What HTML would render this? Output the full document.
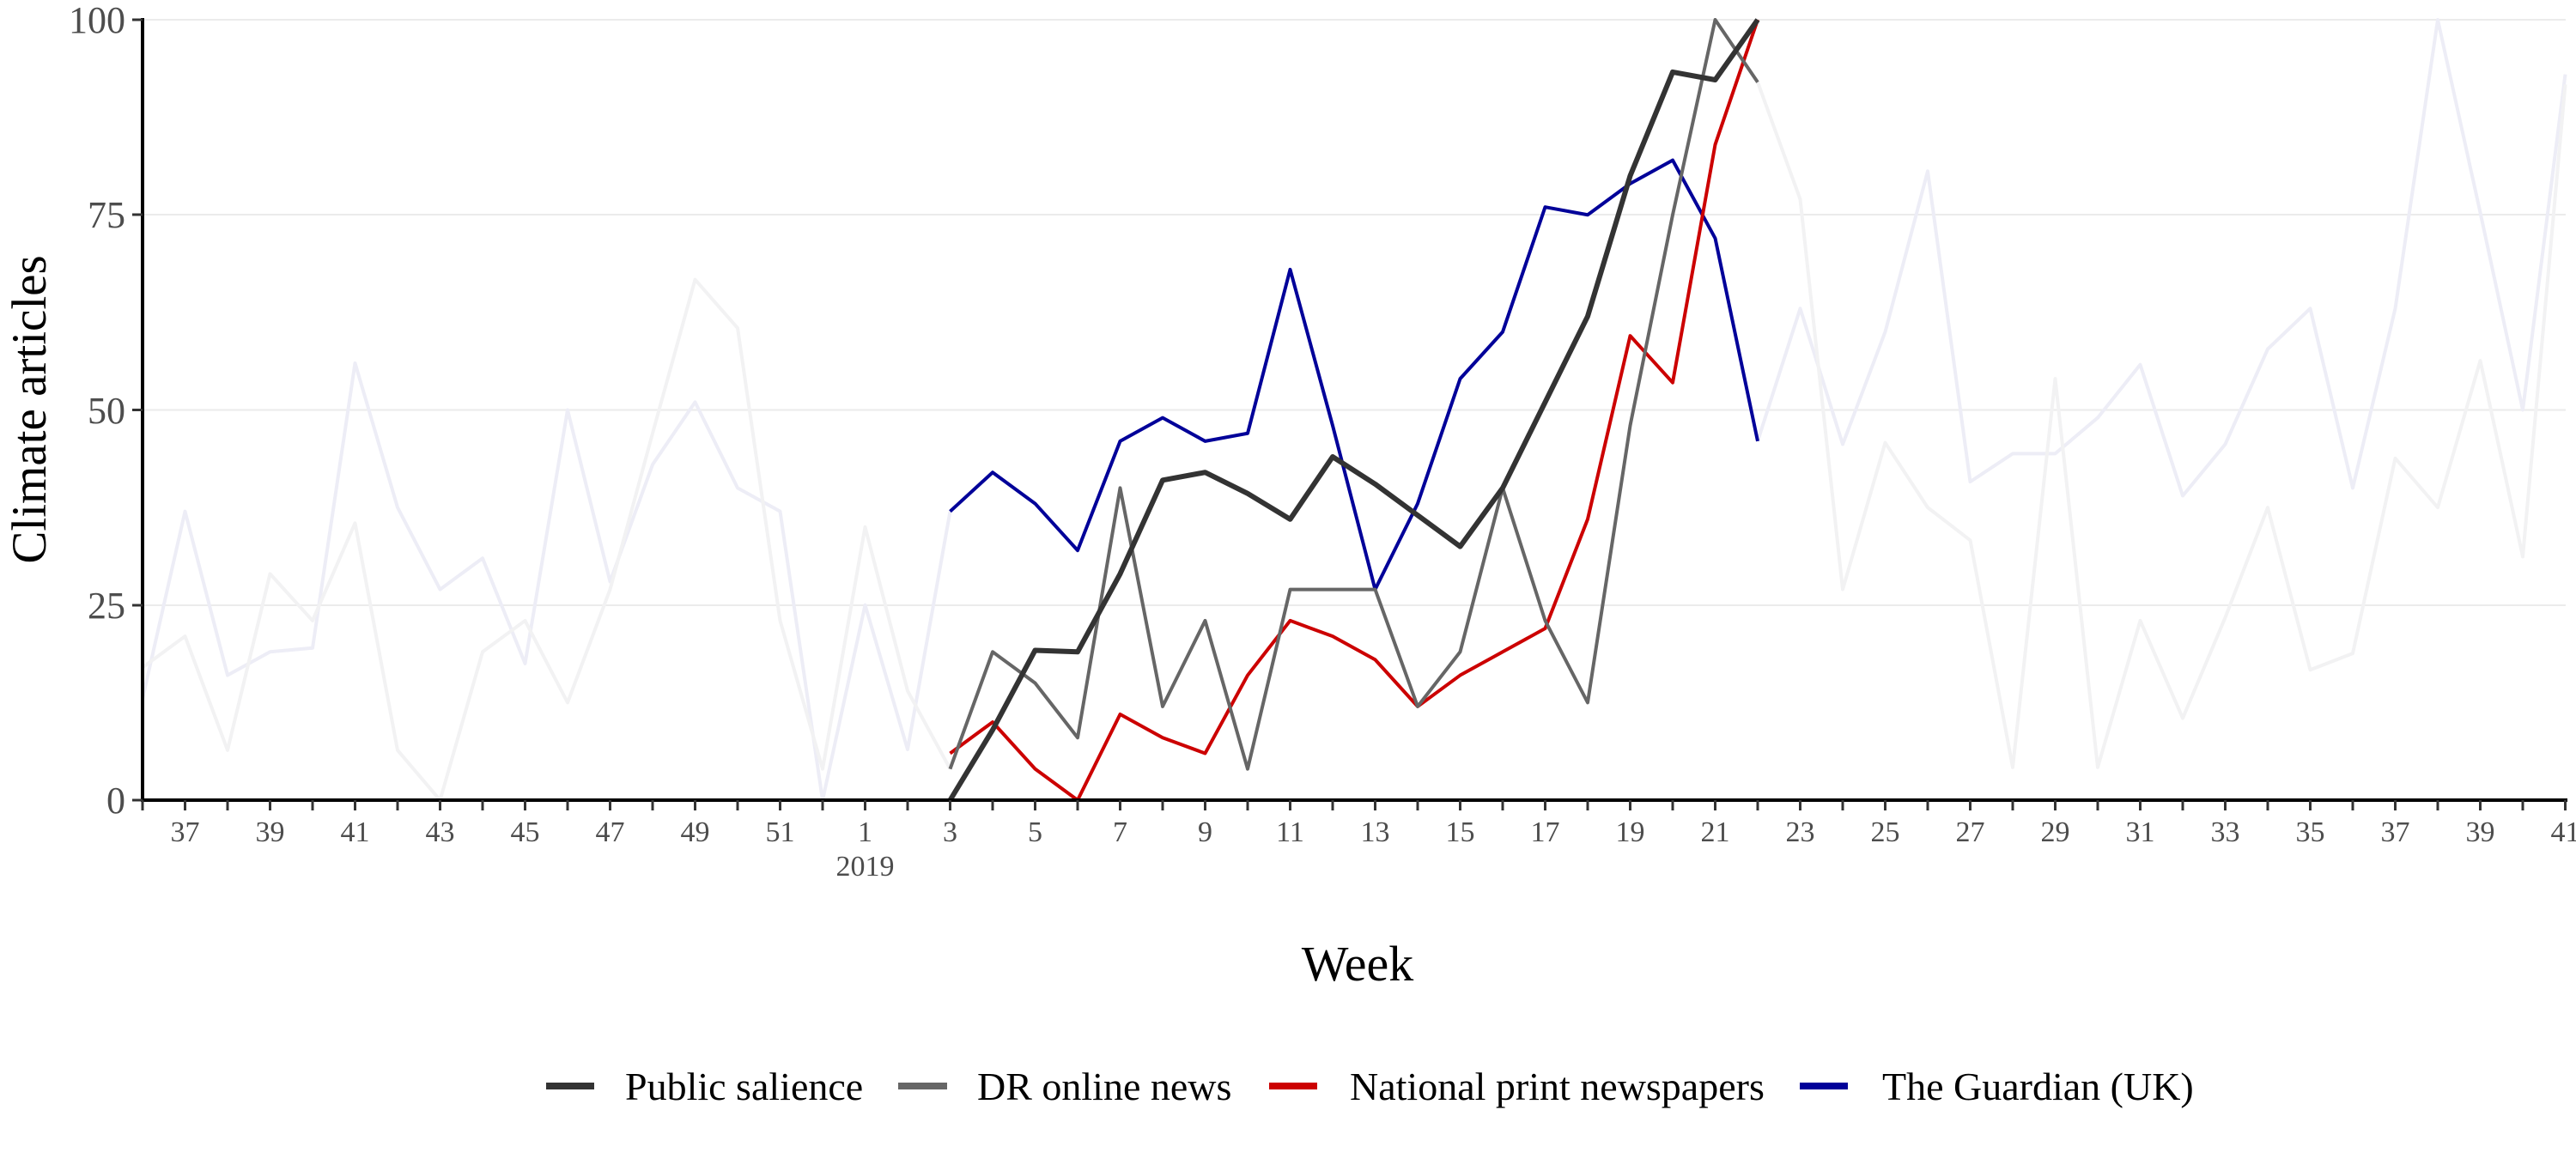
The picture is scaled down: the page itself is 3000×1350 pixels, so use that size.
<!DOCTYPE html>
<html><head><meta charset="utf-8"><style>
html,body{margin:0;padding:0;background:#fff;}
svg{display:block;font-family:"Liberation Serif",serif;}
</style></head><body>
<svg width="3000" height="1350" viewBox="0 0 3000 1350" xmlns="http://www.w3.org/2000/svg">
<rect width="3000" height="1350" fill="#fff"/>
<g stroke="#ebebeb" stroke-width="2">
<line x1="166" x2="2988" y1="23" y2="23"/>
<line x1="166" x2="2988" y1="250" y2="250"/>
<line x1="166" x2="2988" y1="477.5" y2="477.5"/>
<line x1="166" x2="2988" y1="705" y2="705"/>
</g>
<g transform="translate(166,932) scale(49.5,-9.09)" fill="none" stroke-linejoin="round">
<polyline vector-effect="non-scaling-stroke" stroke="#ededf6" stroke-width="4" points="0,13 1,37 2,16 3,19 4,19.5 5,56 6,37.5 7,27 8,31 9,17.5 10,50 11,28 12,43 13,51 14,40 15,37 16,0 17,25 18,6.5 19,37"/>
<polyline vector-effect="non-scaling-stroke" stroke="#ededf6" stroke-width="4" points="38,46 39,63 40,45.6 41,60 42,80.6 43,40.8 44,44.4 45,44.4 46,49 47,55.8 48,39 49,45.6 50,57.8 51,63 52,40 53,63 54,100 55,75.3 56,50 57,93"/>
<polyline vector-effect="non-scaling-stroke" stroke="#f2f2f3" stroke-width="4" points="0,17 1,21 2,6.4 3,29 4,23 5,35.5 6,6.4 7,0 8,19 9,23 10,12.5 11,27 12,47 13,66.7 14,60.5 15,23 16,4 17,35 18,14 19,4"/>
<polyline vector-effect="non-scaling-stroke" stroke="#f2f2f3" stroke-width="4" points="38,92 39,77 40,27 41,45.8 42,37.5 43,33.3 44,4.2 45,54 46,4.2 47,23 48,10.5 49,23.4 50,37.5 51,16.7 52,18.8 53,43.8 54,37.5 55,56.3 56,31.2 57,91.7"/>
<polyline vector-effect="non-scaling-stroke" stroke="#000099" stroke-width="4" points="19,37 20,42 21,38 22,32 23,46 24,49 25,46 26,47 27,68 28,48 29,27 30,38 31,54 32,60 33,76 34,75 35,79 36,82 37,72 38,46"/>
<polyline vector-effect="non-scaling-stroke" stroke="#cc0000" stroke-width="4" points="19,6 20,10 21,4 22,0 23,11 24,8 25,6 26,16 27,23 28,21 29,18 30,12 31,16 32,19 33,22 34,36 35,59.5 36,53.5 37,84 38,100"/>
<polyline vector-effect="non-scaling-stroke" stroke="#666666" stroke-width="4" points="19,4 20,19 21,15 22,8 23,40 24,12 25,23 26,4 27,27 28,27 29,27 30,12 31,19 32,40 33,23 34,12.5 35,48 36,75 37,100 38,92"/>
<polyline vector-effect="non-scaling-stroke" stroke="#333333" stroke-width="6" points="19,0 20,9 21,19.2 22,19 23,29 24,41 25,42 26,39.3 27,36 28,44 29,40.5 30,36.5 31,32.5 32,40 33,51 34,62 35,80 36,93.3 37,92.3 38,100"/>
</g>
<line x1="166" y1="21" x2="166" y2="934" stroke="#000" stroke-width="4"/>
<line x1="164" y1="932" x2="2990" y2="932" stroke="#000" stroke-width="4"/>
<g stroke="#333" stroke-width="3">
<line x1="154" x2="166" y1="23" y2="23"/><line x1="154" x2="166" y1="250" y2="250"/><line x1="154" x2="166" y1="477.5" y2="477.5"/><line x1="154" x2="166" y1="705" y2="705"/><line x1="154" x2="166" y1="932" y2="932"/>
</g>
<g stroke="#333" stroke-width="3">
<path d="M166 932v12M215.5 932v12M265 932v12M314.5 932v12M364 932v12M413.5 932v12M463 932v12M512.5 932v12M562 932v12M611.5 932v12M661 932v12M710.5 932v12M760 932v12M809.5 932v12M859 932v12M908.5 932v12M958 932v12M1007.5 932v12M1057 932v12M1106.5 932v12M1156 932v12M1205.5 932v12M1255 932v12M1304.5 932v12M1354 932v12M1403.5 932v12M1453 932v12M1502.5 932v12M1552 932v12M1601.5 932v12M1651 932v12M1700.5 932v12M1750 932v12M1799.5 932v12M1849 932v12M1898.5 932v12M1948 932v12M1997.5 932v12M2047 932v12M2096.5 932v12M2146 932v12M2195.5 932v12M2245 932v12M2294.5 932v12M2344 932v12M2393.5 932v12M2443 932v12M2492.5 932v12M2542 932v12M2591.5 932v12M2641 932v12M2690.5 932v12M2740 932v12M2789.5 932v12M2839 932v12M2888.5 932v12M2938 932v12M2987.5 932v12"/>
</g>
<g fill="#4d4d4d" font-size="44" text-anchor="end">
<text x="146" y="38">100</text><text x="146" y="265">75</text><text x="146" y="493">50</text><text x="146" y="720">25</text><text x="146" y="947">0</text>
</g>
<g fill="#4d4d4d" font-size="34" text-anchor="middle">
<text x="215.5" y="980">37</text><text x="314.5" y="980">39</text><text x="413.5" y="980">41</text><text x="512.5" y="980">43</text><text x="611.5" y="980">45</text><text x="710.5" y="980">47</text><text x="809.5" y="980">49</text><text x="908.5" y="980">51</text>
<text x="1007.5" y="980">1</text><text x="1106.5" y="980">3</text><text x="1205.5" y="980">5</text><text x="1304.5" y="980">7</text><text x="1403.5" y="980">9</text><text x="1502.5" y="980">11</text><text x="1601.5" y="980">13</text><text x="1700.5" y="980">15</text><text x="1799.5" y="980">17</text><text x="1898.5" y="980">19</text><text x="1997.5" y="980">21</text><text x="2096.5" y="980">23</text><text x="2195.5" y="980">25</text><text x="2294.5" y="980">27</text><text x="2393.5" y="980">29</text><text x="2492.5" y="980">31</text><text x="2591.5" y="980">33</text><text x="2690.5" y="980">35</text><text x="2789.5" y="980">37</text><text x="2888.5" y="980">39</text><text x="2987.5" y="980">41</text>
<text x="1007.5" y="1020">2019</text>
</g>
<text x="1581" y="1142" font-size="58" text-anchor="middle" fill="#000">Week</text>
<text transform="translate(53,477) rotate(-90)" font-size="57" text-anchor="middle" fill="#000">Climate articles</text>
<g font-size="46" fill="#000">
<line x1="636" x2="692" y1="1265" y2="1265" stroke="#333" stroke-width="8"/><text x="728" y="1281">Public salience</text>
<line x1="1046" x2="1103" y1="1265" y2="1265" stroke="#666" stroke-width="8"/><text x="1138" y="1281">DR online news</text>
<line x1="1478" x2="1534" y1="1265" y2="1265" stroke="#cc0000" stroke-width="8"/><text x="1572" y="1281">National print newspapers</text>
<line x1="2096" x2="2152" y1="1265" y2="1265" stroke="#000099" stroke-width="8"/><text x="2192" y="1281">The Guardian (UK)</text>
</g>
</svg>
</body></html>
